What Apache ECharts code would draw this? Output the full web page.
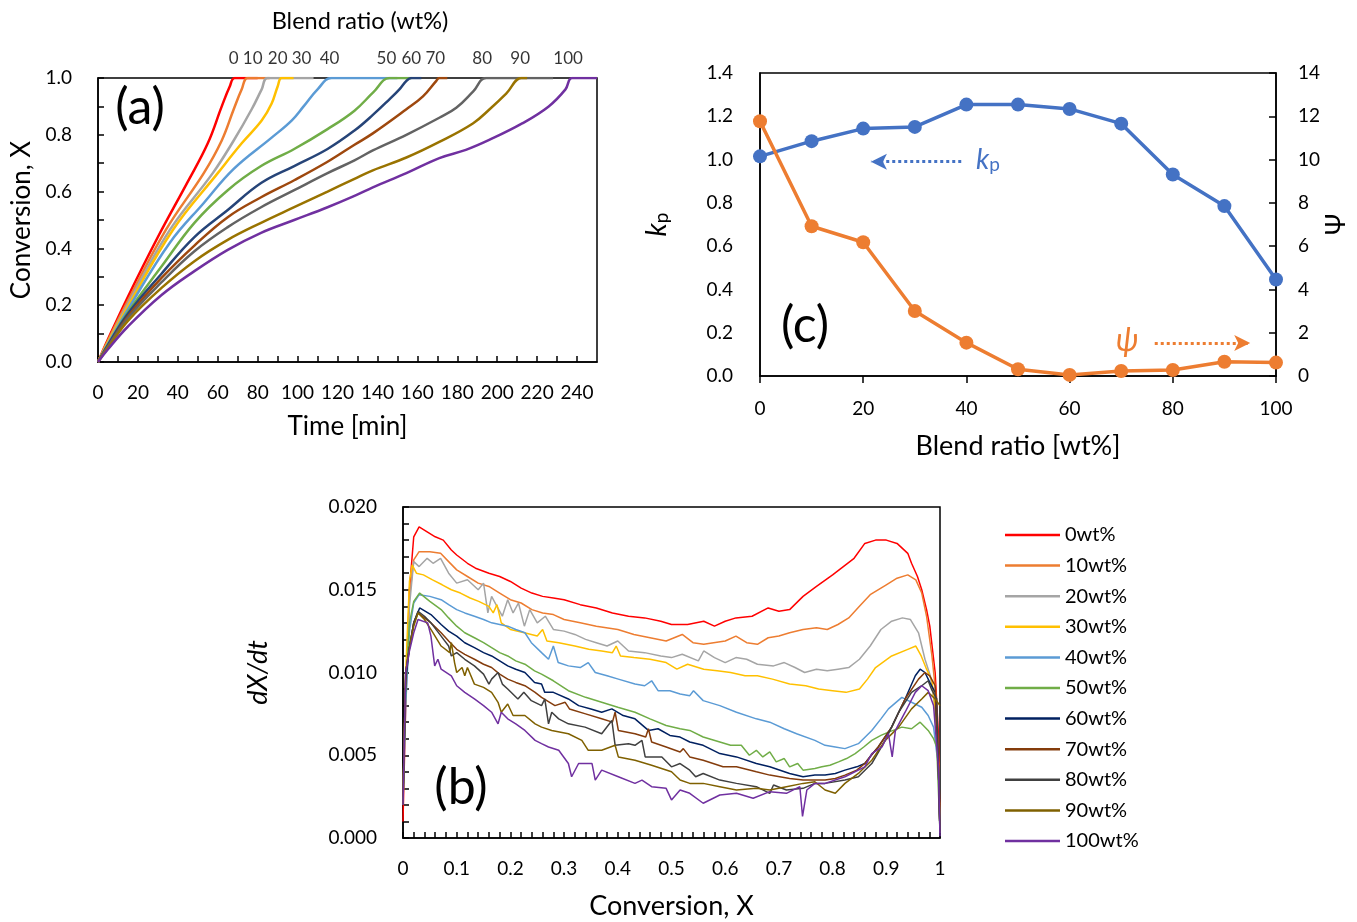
<!DOCTYPE html>
<html>
<head>
<meta charset="UTF-8">
<title>Conversion, rate and kp vs blend ratio</title>
<style>
  html, body { margin: 0; padding: 0; background: #fff; }
  #chart { width: 1357px; height: 922px; }
</style>
<script src="https://cdn.jsdelivr.net/npm/echarts@6.0.0/dist/echarts.min.js"></script>
</head>
<body>
<div id="chart"></div>
<script>
// blend ratios (wt%)
var blendRatios = [0, 10, 20, 30, 40, 50, 60, 70, 80, 90, 100];

// (a) conversion X vs time [min]
var conv0 = [[0,0],[5,0.08],[15,0.23],[30,0.44],[45,0.635],[55,0.77],[62,0.9],[66,0.97],[68.5,1],[80,1]];
var conv10 = [[0,0],[5,0.075],[15,0.215],[34,0.465],[53,0.665],[62,0.78],[68,0.89],[72,0.96],[75,1],[86,1]];
var conv20 = [[0,0],[5,0.07],[15,0.205],[36,0.465],[57.5,0.665],[68,0.78],[77,0.89],[82,0.96],[85,1],[108,1]];
var conv30 = [[0,0],[5,0.07],[15,0.195],[37.5,0.465],[60,0.665],[72,0.77],[82,0.85],[87,0.91],[90,0.97],[92,1],[98,1]];
var conv40 = [[0,0],[5,0.065],[15,0.185],[36,0.42],[53,0.56],[68,0.68],[87,0.79],[97,0.85],[103,0.9],[110,0.96],[117,1],[150,1]];
var conv50 = [[0,0],[5,0.06],[15,0.175],[31.7,0.335],[48.3,0.49],[65,0.605],[81.7,0.69],[98.3,0.75],[115,0.82],[128.5,0.885],[138,0.95],[146,1],[157,1]];
var conv60 = [[0,0],[5,0.06],[15,0.17],[31.7,0.31],[48.3,0.44],[65,0.535],[81.7,0.63],[98.3,0.69],[115,0.75],[128.5,0.815],[137.7,0.87],[146,0.925],[151,0.96],[154.5,0.99],[157,1],[162,1]];
var conv70 = [[0,0],[5,0.055],[15,0.16],[31.7,0.295],[48.3,0.41],[65,0.51],[81.7,0.58],[98.3,0.64],[115,0.705],[128.5,0.765],[137.7,0.805],[154.5,0.89],[162.8,0.935],[169.5,0.99],[171,1],[175,1]];
var conv80 = [[0,0],[5,0.055],[15,0.155],[31.7,0.28],[48.3,0.39],[65,0.475],[81.7,0.545],[98.3,0.605],[115,0.665],[128.5,0.71],[137.7,0.745],[154.5,0.8],[171,0.86],[179.5,0.895],[188,0.953],[194.5,1],[228,1]];
var conv90 = [[0,0],[5,0.05],[15,0.145],[31.7,0.26],[48.3,0.355],[65,0.43],[81.7,0.49],[98.3,0.545],[115,0.6],[128.5,0.645],[137.7,0.675],[154.5,0.72],[171,0.775],[187.8,0.84],[196.2,0.89],[204.5,0.945],[212,1],[215,1]];
var conv100 = [[0,0],[5,0.045],[15,0.125],[31.7,0.235],[48.3,0.32],[65,0.395],[81.7,0.455],[98.3,0.5],[115,0.545],[128.5,0.585],[137.7,0.615],[154.5,0.665],[171,0.718],[184.3,0.747],[196,0.782],[212.5,0.84],[225.8,0.9],[234.2,0.96],[237.5,1],[250,1]];
// time where each blend label sits above panel (a)
var labelTimes = [68, 77.5, 90, 102, 116, 144.5, 157, 169, 192.5, 211.5, 235.5];

// (b) dX/dt (x 1e-3) vs conversion X
var rate0 = [[0,1.0],[0.005,8],[0.012,15],[0.02,18.2],[0.03,18.8],[0.045,18.5],[0.06,18.2],[0.075,18.0],[0.09,17.4],[0.1,17.1],[0.12,16.6],[0.135,16.3],[0.16,16.0],[0.18,15.8],[0.2,15.5],[0.22,15.1],[0.24,14.8],[0.26,14.6],[0.28,14.5],[0.3,14.4],[0.33,14.1],[0.36,13.9],[0.39,13.6],[0.42,13.4],[0.45,13.3],[0.48,13.1],[0.5,12.9],[0.53,12.9],[0.56,13.1],[0.58,12.8],[0.6,13.1],[0.62,13.3],[0.65,13.4],[0.68,13.9],[0.7,13.7],[0.72,13.8],[0.745,14.6],[0.77,15.2],[0.8,15.9],[0.82,16.4],[0.84,16.9],[0.86,17.8],[0.88,18.0],[0.9,18.0],[0.92,17.8],[0.94,17.2],[0.947,16.6],[0.958,15.8],[0.966,15.0],[0.975,13.8],[0.981,12.8],[0.991,10.0],[0.997,6.3],[1.0,0.3]];
var rate10 = [[0,2.0],[0.005,9],[0.012,14.5],[0.02,16.8],[0.03,17.3],[0.05,17.3],[0.07,17.2],[0.085,16.7],[0.1,16.2],[0.12,15.8],[0.14,15.4],[0.16,15.2],[0.18,14.8],[0.2,14.4],[0.22,14.2],[0.24,13.8],[0.26,13.6],[0.28,13.5],[0.3,13.2],[0.33,13.0],[0.36,12.8],[0.4,12.6],[0.43,12.3],[0.46,12.1],[0.49,11.9],[0.52,12.3],[0.54,11.8],[0.56,11.7],[0.6,11.9],[0.62,12.2],[0.64,11.8],[0.66,11.7],[0.68,12.1],[0.7,12.2],[0.72,12.4],[0.745,12.6],[0.77,12.7],[0.79,12.6],[0.81,12.9],[0.83,13.3],[0.85,14.0],[0.87,14.7],[0.9,15.3],[0.92,15.7],[0.94,15.9],[0.955,15.6],[0.966,14.8],[0.975,13.4],[0.985,11.0],[0.992,8.8],[0.997,5.0],[1.0,0.3]];
var rate20 = [[0,2.5],[0.005,9],[0.012,14],[0.02,16.7],[0.03,16.4],[0.045,16.9],[0.056,16.6],[0.07,16.9],[0.085,16.0],[0.1,15.4],[0.12,15.6],[0.14,15.0],[0.15,15.4],[0.158,13.6],[0.165,14.6],[0.175,14.0],[0.185,13.4],[0.195,14.4],[0.205,13.6],[0.215,14.2],[0.226,12.8],[0.236,13.8],[0.25,13.0],[0.265,13.4],[0.28,12.6],[0.3,12.5],[0.32,12.3],[0.34,12.0],[0.36,11.8],[0.38,11.6],[0.4,11.9],[0.42,11.3],[0.45,11.2],[0.48,11.0],[0.5,10.9],[0.52,11.1],[0.55,10.7],[0.56,11.3],[0.58,10.9],[0.6,10.6],[0.62,10.9],[0.64,10.8],[0.66,10.5],[0.69,10.4],[0.71,10.6],[0.73,10.3],[0.748,10.0],[0.77,10.2],[0.79,10.1],[0.81,10.2],[0.83,10.3],[0.85,10.8],[0.87,11.6],[0.89,12.6],[0.91,13.1],[0.93,13.3],[0.945,13.2],[0.96,12.4],[0.972,10.8],[0.982,9.8],[0.99,8.0],[0.996,5.0],[1.0,0.3]];
var rate30 = [[0,2.5],[0.005,10],[0.012,15.5],[0.017,16.5],[0.025,16.0],[0.038,15.9],[0.055,15.6],[0.073,15.3],[0.09,15.0],[0.107,14.8],[0.125,14.5],[0.141,14.3],[0.16,14.0],[0.168,13.6],[0.175,14.1],[0.183,13.0],[0.2,12.6],[0.226,12.4],[0.25,12.2],[0.26,12.6],[0.268,11.9],[0.29,11.8],[0.32,11.6],[0.346,11.4],[0.37,11.3],[0.39,11.2],[0.397,11.6],[0.405,11.0],[0.43,10.9],[0.46,10.8],[0.49,10.6],[0.51,10.2],[0.53,10.5],[0.56,10.2],[0.585,10.1],[0.61,10.0],[0.637,9.8],[0.66,9.8],[0.688,9.6],[0.72,9.3],[0.75,9.2],[0.774,9.0],[0.8,8.9],[0.825,8.8],[0.85,9.0],[0.865,9.6],[0.88,10.3],[0.91,11.0],[0.94,11.4],[0.955,11.6],[0.965,11.0],[0.975,10.2],[0.985,9.5],[0.992,7.5],[0.997,4.5],[1.0,0.3]];
var rate40 = [[0,2.0],[0.005,8],[0.012,12.5],[0.02,14.2],[0.03,14.7],[0.05,14.6],[0.071,14.4],[0.085,14.1],[0.1,13.8],[0.115,13.6],[0.133,13.4],[0.15,13.2],[0.165,13.0],[0.18,12.9],[0.195,12.8],[0.21,12.6],[0.227,12.4],[0.239,11.8],[0.258,11.2],[0.271,10.8],[0.28,11.6],[0.289,10.6],[0.308,10.4],[0.33,10.3],[0.345,10.6],[0.358,10.0],[0.38,9.8],[0.401,9.6],[0.432,9.3],[0.45,9.2],[0.463,9.5],[0.475,8.9],[0.497,8.9],[0.516,8.7],[0.534,8.6],[0.541,8.9],[0.559,8.3],[0.59,8.0],[0.621,7.6],[0.658,7.2],[0.683,7.0],[0.71,6.6],[0.733,6.3],[0.767,5.9],[0.786,5.6],[0.805,5.5],[0.823,5.4],[0.848,5.7],[0.873,6.5],[0.89,7.2],[0.904,7.8],[0.929,8.5],[0.947,8.2],[0.966,7.9],[0.978,7.4],[0.988,6.7],[0.997,4.3],[1.0,0.3]];
var rate50 = [[0,2.0],[0.005,9],[0.012,13],[0.02,14.3],[0.031,14.8],[0.05,14.3],[0.071,13.8],[0.085,13.3],[0.1,12.8],[0.115,12.4],[0.133,12.1],[0.15,11.8],[0.165,11.5],[0.18,11.2],[0.195,11.0],[0.21,10.7],[0.227,10.5],[0.245,10.1],[0.258,9.9],[0.28,9.5],[0.308,8.9],[0.34,8.5],[0.37,8.2],[0.4,7.9],[0.432,7.6],[0.46,7.2],[0.49,6.8],[0.516,6.6],[0.534,6.5],[0.559,6.1],[0.59,5.8],[0.61,5.6],[0.63,5.6],[0.645,5.0],[0.658,5.3],[0.67,4.9],[0.683,5.2],[0.695,4.6],[0.71,4.8],[0.72,4.3],[0.735,4.5],[0.745,4.1],[0.767,4.2],[0.78,4.3],[0.795,4.4],[0.811,4.6],[0.826,4.8],[0.842,5.1],[0.858,5.5],[0.873,5.9],[0.89,6.2],[0.904,6.4],[0.929,6.7],[0.947,6.6],[0.963,7.0],[0.978,6.5],[0.988,6.0],[0.994,5.5],[1.0,0.3]];
var rate60 = [[0,2.5],[0.005,9.5],[0.012,11.5],[0.02,13.0],[0.031,13.9],[0.052,13.5],[0.071,12.9],[0.085,12.5],[0.1,12.2],[0.115,11.8],[0.133,11.5],[0.15,11.2],[0.165,11.0],[0.18,10.7],[0.195,10.4],[0.21,10.2],[0.227,10.0],[0.245,9.4],[0.258,9.3],[0.264,8.8],[0.28,8.8],[0.308,8.4],[0.327,8.0],[0.35,7.8],[0.37,7.6],[0.389,7.8],[0.41,7.4],[0.432,7.2],[0.457,6.5],[0.475,6.6],[0.497,6.2],[0.516,6.1],[0.534,5.8],[0.559,5.6],[0.59,5.1],[0.621,4.9],[0.658,4.5],[0.683,4.3],[0.72,3.9],[0.745,3.7],[0.767,3.8],[0.786,3.8],[0.805,3.9],[0.823,4.1],[0.845,4.3],[0.86,4.5],[0.872,5.0],[0.885,5.5],[0.91,6.7],[0.935,8.4],[0.954,9.8],[0.963,10.2],[0.972,10.0],[0.981,9.4],[0.991,8.8],[0.997,4.3],[1.0,0.3]];
var rate70 = [[0,2.5],[0.005,10],[0.012,11.5],[0.02,13.0],[0.028,13.6],[0.04,13.3],[0.052,13.0],[0.071,12.4],[0.085,11.9],[0.1,11.4],[0.115,11.1],[0.133,10.8],[0.15,10.5],[0.165,10.3],[0.18,9.9],[0.195,9.6],[0.21,9.4],[0.227,9.2],[0.246,8.8],[0.258,8.5],[0.283,8.0],[0.302,8.2],[0.31,7.8],[0.34,7.5],[0.37,7.2],[0.39,7.0],[0.395,7.6],[0.401,6.5],[0.432,6.3],[0.452,6.1],[0.457,6.6],[0.463,5.8],[0.49,5.5],[0.516,5.2],[0.522,5.4],[0.534,4.9],[0.559,4.7],[0.596,4.3],[0.621,4.3],[0.658,4.0],[0.683,3.8],[0.72,3.6],[0.745,3.5],[0.786,3.5],[0.805,3.6],[0.823,3.8],[0.845,4.1],[0.86,4.5],[0.872,5.0],[0.885,5.5],[0.91,6.7],[0.935,8.4],[0.96,9.6],[0.972,10.0],[0.981,9.8],[0.991,9.2],[0.997,4.3],[1.0,0.3]];
var rate80 = [[0,2.0],[0.005,10],[0.012,11.5],[0.02,13.0],[0.028,13.7],[0.04,13.4],[0.052,13.0],[0.071,12.2],[0.085,11.6],[0.09,11.0],[0.1,11.2],[0.115,10.8],[0.133,10.4],[0.15,9.9],[0.16,9.3],[0.165,9.6],[0.177,10.0],[0.185,9.3],[0.195,9.0],[0.214,8.4],[0.225,8.8],[0.239,8.3],[0.258,8.0],[0.264,8.4],[0.271,6.9],[0.277,7.6],[0.29,7.2],[0.308,6.9],[0.339,6.7],[0.37,6.3],[0.389,7.1],[0.395,5.6],[0.42,5.7],[0.432,5.6],[0.445,5.9],[0.451,4.9],[0.482,4.9],[0.5,4.3],[0.516,4.5],[0.534,4.1],[0.545,3.7],[0.559,3.9],[0.59,3.5],[0.621,3.3],[0.658,3.1],[0.683,2.7],[0.69,3.2],[0.714,2.9],[0.745,3.0],[0.767,3.3],[0.786,3.3],[0.823,3.5],[0.848,3.7],[0.873,4.5],[0.898,5.9],[0.923,7.6],[0.947,8.8],[0.966,9.2],[0.978,9.5],[0.984,9.0],[0.994,8.4],[0.997,4.3],[1.0,0.3]];
var rate90 = [[0,2.0],[0.005,10],[0.012,11.5],[0.02,12.8],[0.028,13.6],[0.04,13.2],[0.052,12.6],[0.071,11.6],[0.087,11.2],[0.09,11.8],[0.096,10.6],[0.1,10.0],[0.11,10.3],[0.115,9.8],[0.12,10.3],[0.133,9.3],[0.15,9.1],[0.165,8.8],[0.177,8.2],[0.183,7.6],[0.195,8.1],[0.205,7.4],[0.227,7.4],[0.246,6.9],[0.258,6.7],[0.277,6.5],[0.308,6.3],[0.333,5.9],[0.345,5.3],[0.37,5.3],[0.395,5.6],[0.401,4.9],[0.432,4.7],[0.463,4.4],[0.5,4.0],[0.516,3.5],[0.534,3.3],[0.559,3.3],[0.59,3.1],[0.621,2.9],[0.658,3.0],[0.683,2.9],[0.714,3.1],[0.745,3.3],[0.767,3.4],[0.786,2.9],[0.805,2.7],[0.823,3.3],[0.848,3.9],[0.873,4.7],[0.898,5.9],[0.923,6.7],[0.947,7.8],[0.966,8.4],[0.978,8.8],[0.991,8.4],[1.0,8.0]];
var rate100 = [[0,2.0],[0.005,10],[0.012,11.3],[0.02,12.4],[0.028,13.2],[0.046,13.0],[0.052,12.2],[0.059,10.4],[0.065,10.8],[0.071,10.2],[0.09,9.8],[0.1,9.2],[0.115,8.8],[0.133,8.4],[0.15,8.0],[0.165,7.6],[0.177,6.9],[0.183,7.6],[0.195,7.2],[0.21,6.9],[0.227,6.5],[0.246,5.9],[0.258,5.7],[0.271,5.5],[0.29,5.3],[0.308,4.5],[0.314,3.7],[0.327,4.5],[0.352,4.5],[0.358,3.5],[0.37,4.1],[0.401,3.7],[0.432,3.3],[0.445,3.5],[0.463,3.1],[0.49,3.0],[0.5,2.3],[0.516,2.9],[0.534,2.7],[0.559,2.1],[0.59,2.6],[0.621,2.7],[0.652,2.4],[0.683,2.8],[0.714,2.7],[0.739,3.1],[0.744,1.3],[0.752,2.9],[0.767,3.3],[0.786,3.3],[0.823,3.7],[0.86,4.3],[0.873,5.1],[0.892,5.5],[0.904,6.3],[0.911,4.9],[0.917,6.5],[0.935,7.6],[0.954,8.8],[0.966,9.2],[0.978,8.9],[0.988,8.0],[0.997,4.3],[1.0,0.1]];

// (c) kp and psi vs blend ratio
var kpValues = [1.015, 1.085, 1.143, 1.151, 1.254, 1.254, 1.234, 1.166, 0.931, 0.785, 0.446];
var psiValues = [11.77, 6.92, 6.18, 3.0, 1.54, 0.31, 0.05, 0.23, 0.28, 0.66, 0.62];
var kpArrow = [[39, 0.99], [21.5, 0.99]];
var psiArrow = [[76.5, 1.52], [95, 1.52]];

var convCurves = [conv0, conv10, conv20, conv30, conv40, conv50, conv60, conv70, conv80, conv90, conv100];
var rateCurves = [rate0, rate10, rate20, rate30, rate40, rate50, rate60, rate70, rate80, rate90, rate100];
var colorsA = ['#FF0000', '#ED7D31', '#A5A5A5', '#FFC000', '#5B9BD5', '#70AD47', '#264478', '#9E480E', '#636363', '#997300', '#7030A0'];
var colorsB = ['#FF0000', '#ED7D31', '#A5A5A5', '#FFC000', '#5B9BD5', '#70AD47', '#002060', '#843C0C', '#404040', '#7F6000', '#7030A0'];
var legendNames = blendRatios.map(function (r) { return r + 'wt%'; });

var FONT = 'Lato, "Open Sans", sans-serif';
var black = '#000';
var TICK = 19;

function axisBase(extra) {
  var base = {
    type: 'value',
    splitLine: { show: false },
    axisLine: { show: true, onZero: false, lineStyle: { color: black, width: 1.5 } },
    axisTick: { show: true, inside: true, length: 6, lineStyle: { color: black, width: 1.5 } },
    axisLabel: { color: black, fontSize: TICK, fontFamily: FONT },
    nameLocation: 'middle',
    nameTextStyle: { color: black, fontSize: 26, fontFamily: FONT }
  };
  return Object.assign(base, extra);
}

var series = [];

convCurves.forEach(function (curve, i) {
  series.push({
    name: 'a' + blendRatios[i],
    type: 'line',
    xAxisIndex: 0, yAxisIndex: 0,
    data: curve,
    symbol: 'none',
    smooth: 0.4,
    lineStyle: { width: 2.5, color: colorsA[i] },
    itemStyle: { color: colorsA[i] },
    z: 3
  });
});

series.push({
  name: 'blendLabels',
  type: 'scatter',
  xAxisIndex: 0, yAxisIndex: 0,
  symbolSize: 0,
  clip: false,
  silent: true,
  data: labelTimes.map(function (t, i) { return { value: [t, 1], name: String(blendRatios[i]) }; }),
  label: { show: true, position: 'top', distance: 11, formatter: '{b}', color: black, fontSize: 17, fontFamily: FONT }
});

rateCurves.forEach(function (curve, i) {
  series.push({
    name: legendNames[i],
    type: 'line',
    xAxisIndex: 2, yAxisIndex: 3,
    data: curve.map(function (p) { return [p[0], p[1] / 1000]; }),
    symbol: 'none',
    lineStyle: { width: 1.5, color: colorsB[i] },
    itemStyle: { color: colorsB[i] },
    z: 3
  });
});

series.push({
  name: 'kp',
  type: 'line',
  xAxisIndex: 1, yAxisIndex: 1,
  data: blendRatios.map(function (r, i) { return [r, kpValues[i]]; }),
  symbol: 'circle', symbolSize: 14,
  lineStyle: { width: 3.5, color: '#4472C4' },
  itemStyle: { color: '#4472C4' },
  z: 3,
  markLine: {
    silent: true, animation: false,
    symbol: ['none', 'arrow'], symbolSize: [12, 16],
    label: { show: false },
    lineStyle: { type: 'dotted', width: 3, color: '#4472C4' },
    data: [[{ coord: kpArrow[0] }, { coord: kpArrow[1] }]]
  }
});
series.push({
  name: 'psi',
  type: 'line',
  xAxisIndex: 1, yAxisIndex: 2,
  data: blendRatios.map(function (r, i) { return [r, psiValues[i]]; }),
  symbol: 'circle', symbolSize: 14,
  lineStyle: { width: 3.5, color: '#ED7D31' },
  itemStyle: { color: '#ED7D31' },
  z: 3,
  markLine: {
    silent: true, animation: false,
    symbol: ['none', 'arrow'], symbolSize: [12, 16],
    label: { show: false },
    lineStyle: { type: 'dotted', width: 3, color: '#ED7D31' },
    data: [[{ coord: psiArrow[0] }, { coord: psiArrow[1] }]]
  }
});

var gridBase = { show: true, borderColor: black, borderWidth: 1.5, backgroundColor: 'transparent', containLabel: false, outerBoundsMode: 'none' };

var option = {
  animation: false,
  backgroundColor: '#fff',
  textStyle: { fontFamily: FONT },
  grid: [
    Object.assign({ left: 98, top: 78, width: 499, height: 284 }, gridBase),
    Object.assign({ left: 760, top: 73, width: 516, height: 303 }, gridBase),
    Object.assign({ left: 403, top: 507, width: 537, height: 331 }, gridBase)
  ],
  xAxis: [
    axisBase({
      gridIndex: 0, min: 0, max: 250, interval: 10,
      axisLabel: { color: black, fontSize: TICK, fontFamily: FONT, margin: 21, showMaxLabel: false,
        formatter: function (v) { return (v % 20 === 0 && v <= 240) ? String(v) : ''; } },
      name: 'Time [min]', nameGap: 52
    }),
    axisBase({
      gridIndex: 1, min: 0, max: 100, interval: 20,
      axisTick: { show: true, inside: false, length: 7, lineStyle: { color: black, width: 1.5 } },
      axisLabel: { color: black, fontSize: TICK, fontFamily: FONT, margin: 23 },
      name: 'Blend ratio [wt%]', nameGap: 57,
      nameTextStyle: { color: black, fontSize: 27, fontFamily: FONT }
    }),
    axisBase({
      gridIndex: 2, min: 0, max: 1, interval: 0.1,
      minorTick: { show: true, splitNumber: 5, length: 6, lineStyle: { color: black, width: 1.5 } },
      axisLabel: { color: black, fontSize: TICK, fontFamily: FONT, margin: 21,
        formatter: function (v) { return v === 0 ? '0' : (v === 1 ? '1' : v.toFixed(1)); } },
      name: 'Conversion, X', nameGap: 55,
      nameTextStyle: { color: black, fontSize: 27, fontFamily: FONT }
    })
  ],
  yAxis: [
    axisBase({
      gridIndex: 0, min: 0, max: 1, interval: 0.1,
      axisLabel: { color: black, fontSize: TICK, fontFamily: FONT, margin: 26,
        formatter: function (v) { return Math.round(v * 10) % 2 === 0 ? v.toFixed(1) : ''; } },
      name: 'Conversion, X', nameGap: 63, nameRotate: 90
    }),
    axisBase({
      gridIndex: 1, min: 0, max: 1.4, interval: 0.2,
      axisTick: { show: false },
      axisLabel: { color: black, fontSize: TICK, fontFamily: FONT, margin: 27,
        formatter: function (v) { return v.toFixed(1); } },
      name: '{k|k}{p|p}', nameGap: 89, nameRotate: 90,
      nameTextStyle: { color: black, fontFamily: FONT,
        rich: {
          k: { fontSize: 28, fontStyle: 'italic', fontFamily: FONT, color: black },
          p: { fontSize: 19, fontFamily: FONT, color: black, verticalAlign: 'bottom', padding: [8, 0, 0, 0] }
        } }
    }),
    axisBase({
      gridIndex: 1, min: 0, max: 14, interval: 2, position: 'right',
      axisTick: { show: true, inside: true, length: 7, lineStyle: { color: black, width: 1.5 } },
      axisLabel: { color: black, fontSize: TICK, fontFamily: FONT, margin: 22 },
      name: 'Ψ', nameGap: 47, nameRotate: 90,
      nameTextStyle: { color: black, fontSize: 26, fontFamily: FONT }
    }),
    axisBase({
      gridIndex: 2, min: 0, max: 0.02, interval: 0.005,
      minorTick: { show: true, splitNumber: 5, length: 6, lineStyle: { color: black, width: 1.5 } },
      axisLabel: { color: black, fontSize: TICK, fontFamily: FONT, margin: 26,
        formatter: function (v) { return v.toFixed(3); } },
      name: 'dX/dt', nameGap: 131, nameRotate: 90,
      nameTextStyle: { color: black, fontSize: 27, fontStyle: 'italic', fontFamily: FONT }
    })
  ],
  legend: {
    data: legendNames,
    orient: 'vertical',
    left: 1000, top: 520,
    icon: 'rect',
    itemWidth: 55, itemHeight: 2.5, itemGap: 10.6,
    selectedMode: false,
    textStyle: { color: black, fontSize: 20, fontFamily: FONT, lineHeight: 20 }
  },
  graphic: [
    { type: 'text', x: 360, y: 21, style: { text: 'Blend ratio (wt%)', fill: black, font: '23.5px ' + FONT, align: 'center', verticalAlign: 'middle' } },
    { type: 'text', x: 140, y: 108, style: { text: '(a)', fill: black, font: '50px ' + FONT, align: 'center', verticalAlign: 'middle' } },
    { type: 'text', x: 461, y: 788, style: { text: '(b)', fill: black, font: '50px ' + FONT, align: 'center', verticalAlign: 'middle' } },
    { type: 'text', x: 805, y: 326, style: { text: '(c)', fill: black, font: '50px ' + FONT, align: 'center', verticalAlign: 'middle' } },
    { type: 'text', x: 988, y: 160, style: { text: '{k|k}{p|p}', align: 'center', verticalAlign: 'middle',
        rich: {
          k: { fontSize: 28, fontStyle: 'italic', fontFamily: FONT, fill: '#4472C4' },
          p: { fontSize: 19, fontFamily: FONT, fill: '#4472C4', verticalAlign: 'bottom', padding: [8, 0, 0, 0] }
        } } },
    { type: 'text', x: 1127, y: 341, style: { text: 'ψ', fill: '#ED7D31', font: 'italic 32px ' + FONT, align: 'center', verticalAlign: 'middle' } }
  ],
  series: series
};

var chart = echarts.init(document.getElementById('chart'));
chart.setOption(option);
</script>
</body>
</html>
